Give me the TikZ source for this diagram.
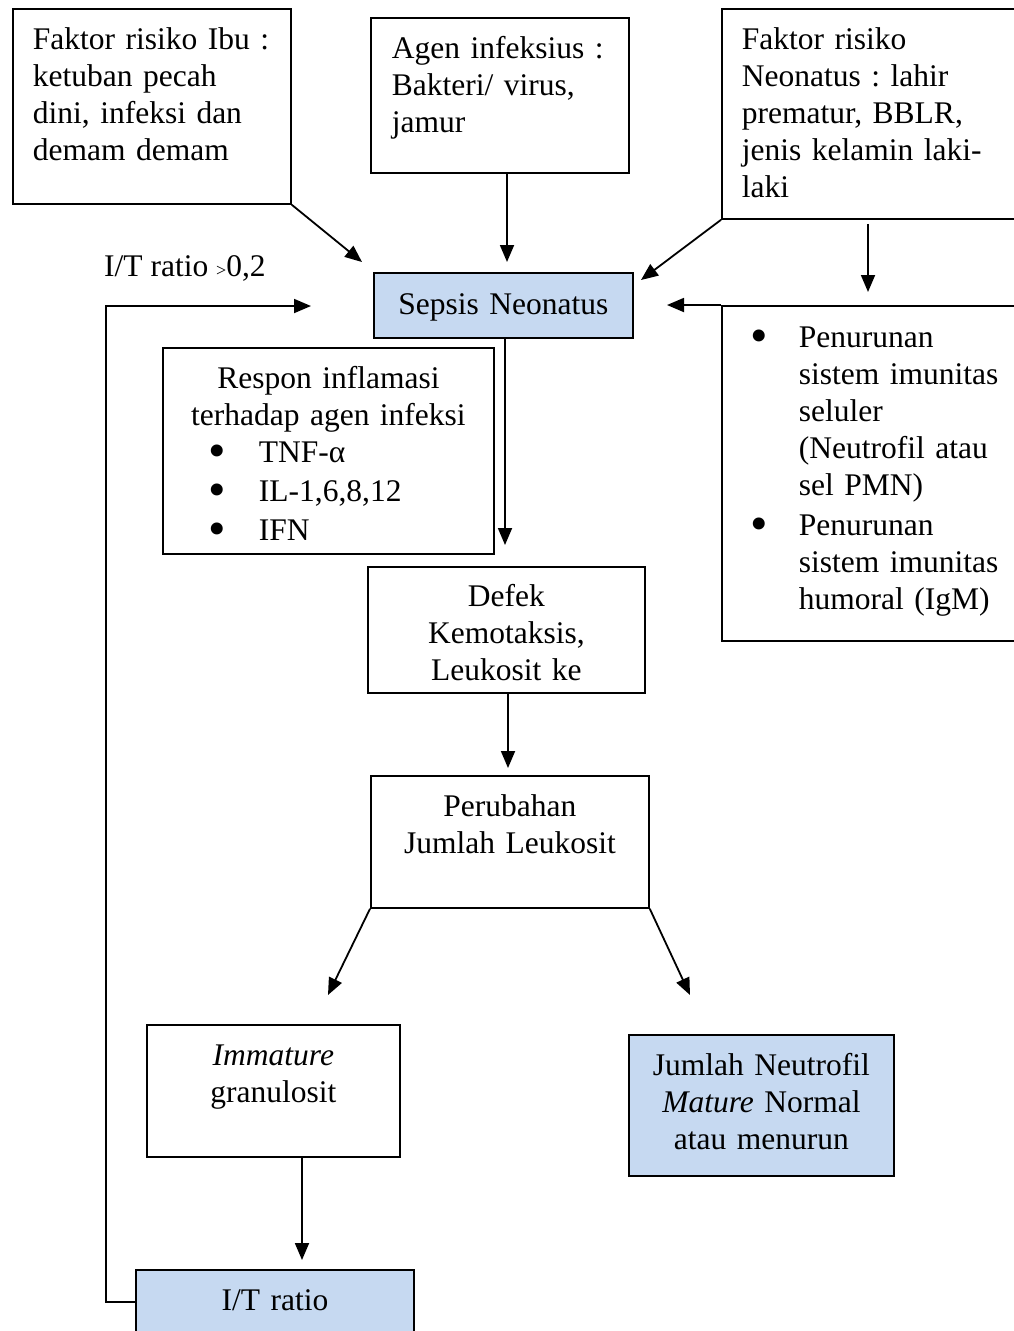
\documentclass[tikz,border=0pt]{standalone}
\usepackage{fontspec}
\setmainfont{Liberation Serif}
\usepackage{tikz}
\usetikzlibrary{positioning,calc,arrows.meta}
\frenchspacing
\definecolor{sepsisblue}{RGB}{198,217,241}
\newcommand{\bigbullet}{\raisebox{-5pt}[0pt][0pt]{\fontsize{50}{37}\selectfont\textbullet}}
\tikzstyle{line} = [draw,line width=1.8pt]
\tikzstyle{arrow} = [line,-{Triangle[length=17pt,width=14pt]}]
\tikzstyle{box} = [draw,line width=1.8pt,anchor=north west,inner xsep=0pt,inner ysep=0pt,text height=41pt]
\tikzstyle{bluebox} = [box,fill=sepsisblue]

\begin{document}
\begin{tikzpicture}[auto,x=1pt,y=-1pt,every node/.style={font=\fontsize{31.5}{37}\selectfont}]
          \useasboundingbox (0,0) rectangle (1014,1331);
          \node[box, text width=238pt, inner xsep=20pt, text depth=154pt, align=left] (ibu) at (12,8) {Faktor~risiko~Ibu~:\\ketuban pecah\\dini, infeksi dan\\demam demam};
          \node[box, text width=216pt, inner xsep=21pt, text depth=114pt, align=left] (agen) at (370,17) {Agen~infeksius~:\\Bakteri/ virus,\\jamur};
          \node[box, text width=260pt, inner xsep=20pt, text depth=169pt, align=left] (neo) at (721,8) {Faktor risiko\\Neonatus~:~lahir\\prematur, BBLR,\\jenis~kelamin~laki-\\laki};
          \node[bluebox, text width=259pt, text height=42pt, text depth=23pt, align=center] (sepsis) at (373,272) {Sepsis Neonatus};
          \node[box, text width=331pt, text depth=165pt, align=center] (respon) at (162,347) {Respon inflamasi\\terhadap agen infeksi\\
            \makebox[331pt][l]{\hspace*{46pt}\makebox[50pt][l]{\bigbullet}TNF-α}\\[2pt]
            \makebox[331pt][l]{\hspace*{46pt}\makebox[50pt][l]{\bigbullet}IL-1,6,8,12}\\[2pt]
            \makebox[331pt][l]{\hspace*{46pt}\makebox[50pt][l]{\bigbullet}IFN}};
          \node[box, text width=299pt, text height=42pt, text depth=293pt, align=left] (imun) at (721,305) {%
            \hspace*{29pt}\makebox[48pt][l]{\bigbullet}Penurunan\\
            \hspace*{77pt}sistem imunitas\\
            \hspace*{77pt}seluler\\
            \hspace*{77pt}(Neutrofil atau\\
            \hspace*{77pt}sel PMN)\\[3pt]
            \hspace*{29pt}\makebox[48pt][l]{\bigbullet}Penurunan\\
            \hspace*{77pt}sistem imunitas\\
            \hspace*{77pt}humoral (IgM)};
          \node[box, text width=277pt, text height=40pt, text depth=86pt, align=center] (defek) at (367,566) {Defek\\Kemotaksis,\\Leukosit ke};
          \node[box, text width=278pt, text depth=91pt, align=center] (ubah) at (370,775) {Perubahan\\Jumlah Leukosit};
          \node[box, text width=253pt, text depth=91pt, align=center] (immature) at (146,1024) {\textit{Immature}\\granulosit};
          \node[bluebox, text width=265pt, text depth=100pt, align=center] (neutro) at (628,1034) {Jumlah Neutrofil\\\textit{Mature} Normal\\atau menurun};
          \node[bluebox, text width=278pt, text depth=23pt, align=center] (ratio) at (135,1269) {I/T ratio};
          \node[anchor=base west, inner sep=0pt] (ratiolabel) at (104,276) {I/T ratio {\fontsize{18}{18}\selectfont >}0,2};

          \coordinate (tibu) at (362,262);
          \coordinate (tagen) at (507,262);
          \coordinate (tneo) at (641,280);
          \coordinate (tneodown) at (868,292);
          \coordinate (timun) at (667,305);
          \coordinate (tsepsis) at (505,545);
          \coordinate (tdefek) at (508,768);
          \coordinate (tleft) at (328,995);
          \coordinate (tright) at (690,995);
          \coordinate (timmature) at (302,1260);
          \coordinate (tratio) at (311,306);

          \path[arrow] (ibu.south east) -- (tibu);
          \path[arrow] (tagen |- agen.south) -- (tagen);
          \path[arrow] (neo.south west) -- (tneo);
          \path[arrow, shorten <=4pt] (tneodown |- neo.south) -- (tneodown);
          \path[arrow] (imun.north west) -- (timun);
          \path[arrow] (tsepsis |- sepsis.south) -- (tsepsis);
          \path[arrow] (tdefek |- defek.south) -- (tdefek);
          \path[arrow] (ubah.south west) -- (tleft);
          \path[arrow] (ubah.south east) -- (tright);
          \path[arrow] (timmature |- immature.south) -- (timmature);
          \path[arrow] (ratio.west) -- ++(-29,0) |- (tratio);
        \end{tikzpicture}
\end{document}
